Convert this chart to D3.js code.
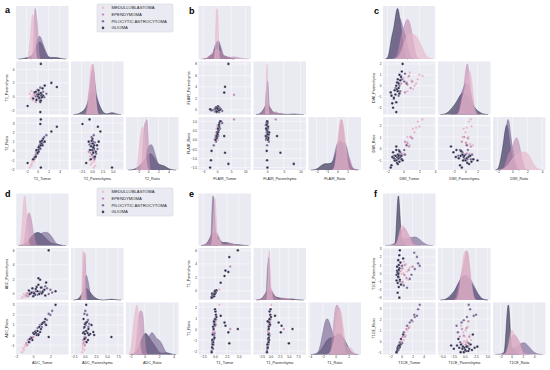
<!DOCTYPE html>
<html><head><meta charset="utf-8">
<script src="https://cdn.jsdelivr.net/npm/d3@7"></script>
<style>
body{margin:0;background:#fff}
text{font-family:"Liberation Sans",Arial,sans-serif}
</style>
</head><body>
<svg id="c" width="550" height="370"></svg>
<script>
// ---------- categories / colours ----------
const groups = ["MEDULLOBLASTOMA","EPENDYMOMA","PILOCYTIC ASTROCYTOMA","GLIOMA"];
const groupColors = ["#e4b6ca","#c08db0","#776592","#2c2b4b"];

// ---------- panel a : T2 (each array: [M, E, P, G]) ----------
const t2Vars = ["T2_Tumor","T2_Parenchyma","T2_Ratio"];
const t2Tumor = [
 [-0.9,-1.2,-0.7,-1.0,-0.6,-1.4,-0.8,-1.1,-0.5,-0.9],
 [-0.4,-0.1,-0.6,0.0,-0.3,-0.5],
 [0.2,0.6,-0.3,1.0,0.4,0.8,1.6,0.0,0.3,1.2,-0.1,0.5],
 [0.1,0.4,-0.2,0.7,0.3,-0.5,0.9,0.2,0.5,-0.8,0.0,0.6,1.3,0.6,0.6,3.5,2.5,-1.8,0.5,1.0,-0.3,0.8,0.2]];
const t2Paren = [
 [0.2,-0.3,0.5,0.0,-0.5,0.4,-0.2,0.8,0.1,-0.6],
 [0.3,-0.4,0.6,0.1,-0.8,0.2],
 [0.5,-0.2,0.0,0.7,-0.6,0.3,0.4,1.0,-0.3,-0.1,0.2,1.3],
 [0.0,0.4,-0.5,0.2,-0.2,0.6,1.2,0.9,-0.8,-0.3,0.3,0.5,1.6,4.8,-0.6,1.4,2.0,-1.4,-2.3,0.1,0.7,-0.1,0.3]];
const t2Ratio = [
 [-1.2,-1.5,-1.1,-1.3,-0.6,-1.8,-0.9,-1.6,-0.7,-1.0],
 [-0.6,-0.2,-0.9,-0.3,-0.1,-0.7],
 [0.1,0.8,-0.4,0.9,0.7,1.0,1.7,-0.3,0.5,1.5,0.0,0.2],
 [0.1,0.3,0.1,0.8,0.5,-0.7,0.6,-0.1,1.0,-0.9,-0.2,0.6,1.0,-1.8,3.4,2.6,2.1,-1.3,2.9,1.3,-0.6,1.1,0.4]];
const t2XTicks = [[-2,0,2,4],[-2.5,0,2.5,5],[-2,0,2,4]];
const t2YTicks = [[],[-2,0,2,4],[-2,-1,0,1,2,3]];

// ---------- panel b : FLAIR ----------
const flVars = ["FLAIR_Tumor","FLAIR_Parenchyma","FLAIR_Ratio"];
const flTumor = [
 [-0.3,0.2,-0.5,0.0,0.4,-0.2,0.1,-0.1,0.3,-0.4],
 [0.5,-0.6,0.1,6.0,-0.2,0.3],
 [0.6,-0.8,1.0,0.2,-0.4,1.4,0.0,0.7,-1.2,0.4,1.8,-0.6],
 [0.5,-0.4,0.7,-0.3,0.4,-0.6,0.2,0.8,-0.2,0.0,1.1,-0.5,0.3,-2.0,-2.2,-2.5,4.0,2.8,2.5,0.3,-0.1,0.6,0.1,-0.2]];
const flParen = [
 [-0.1,0.0,0.2,-0.2,0.1,0.0,0.3,-0.3,0.1,-0.1],
 [0.1,-0.2,0.4,2.6,0.2,-0.1],
 [0.2,-0.3,0.3,-0.1,0.5,0.1,0.2,-0.4,0.0,0.4,-0.2,0.1],
 [0.0,-0.2,0.3,0.1,-0.3,0.2,0.5,0.1,-0.4,0.2,0.0,0.3,0.6,-0.1,0.0,0.1,8.0,4.0,3.0,-0.2,0.4,-0.1,0.2,-0.3]];
const flRatio = [
 [0.6,0.4,0.3,0.7,0.5,0.2,0.8,0.1,0.0,0.4],
 [0.6,0.2,0.3,1.1,0.4,0.5],
 [0.7,0.0,0.6,0.4,-0.1,1.0,0.3,0.8,-0.3,0.2,0.9,0.1],
 [0.5,0.1,0.7,0.2,0.6,0.0,0.3,0.9,0.2,0.4,1.0,0.0,0.4,-0.6,-1.1,-1.5,-1.3,-0.7,0.2,0.6,0.1,0.8,0.3,0.2]];
const flXTicks = [[-5,0,5,10],[0,5,10],[-2,-1,0,1]];
const flYTicks = [[],[0,2,4,6,8],[-1.5,-1,-0.5,0,0.5,1]];

// ---------- panel c : DWI ----------
const dwVars = ["DWI_Tumor","DWI_Parenchyma","DWI_Ratio"];
const dwTumor = [
 [1.0,1.6,0.6,2.0,1.2,0.3,0.8,1.8,2.4,0.5,1.4,0.0],
 [0.4,0.9,-0.1,0.7,1.1,0.2,0.5,-0.3],
 [-0.5,-0.2,-0.8,0.1,-0.6,-0.3,0.4,-1.0,-0.4,0.2,-0.7,-1.2],
 [-0.8,-1.0,-0.6,-0.9,-0.4,-1.2,-0.7,-0.5,-1.1,-0.3,-0.9,-0.6,-1.4,-0.2,-0.8,-1.5,-0.1,-1.3,-0.9,-0.5,-1.6,-0.7]];
const dwParen = [
 [0.5,0.2,0.8,1.0,-0.3,0.3,1.2,0.6,0.9,-0.5,0.0,0.7],
 [0.3,-0.2,0.6,0.9,0.4,-0.6,0.1,0.2],
 [0.0,0.6,-0.4,0.4,-0.9,0.9,0.2,-0.2,-0.5,1.1,0.3,-1.2],
 [-0.3,-0.8,0.2,0.0,0.5,-1.1,-0.5,1.0,-0.4,0.8,-1.5,-0.2,-1.6,1.3,0.3,-0.9,2.0,-2.0,-2.4,-0.7,-0.6,0.6]];
const dwRatio = [
 [1.0,1.8,0.4,1.9,1.7,0.4,0.3,2.3,2.5,1.0,1.4,-0.4],
 [0.3,1.0,-0.5,0.2,0.9,0.6,0.5,-0.4],
 [-0.5,-0.6,-0.6,-0.1,-0.1,-0.9,0.3,-0.9,-0.3,-0.5,-0.9,-0.6],
 [-0.7,-0.6,-0.8,-1.0,-0.7,-0.8,-0.5,-1.1,-1.0,-0.6,-0.1,-0.6,-0.7,-0.9,-1.2,-1.4,-1.0,-0.3,0.2,-0.2,-1.6,-1.3]];
const dwXTicks = [[-2,0,2,4],[-2,0,2],[-2,0,2,4]];
const dwYTicks = [[],[-2,-1,0,1,2],[-1,0,1,2]];

// ---------- panel d : ADC ----------
const adVars = ["ADC_Tumor","ADC_Parenchyma","ADC_Ratio"];
const adTumor = [
 [-1.0,-1.2,-0.9,-1.1,-0.8,-1.3,-1.0,-0.7,-1.1,-0.9],
 [-0.5,-0.2,-0.8,-0.4,-0.6,0.0,-0.3,-0.7],
 [1.2,0.8,1.6,2.0,0.5,1.4,2.2,1.0,0.3,1.8],
 [0.5,0.2,0.9,-0.2,1.3,0.6,0.0,1.0,0.4,-0.5,1.5,0.7,0.3,1.8,1.1,-0.1,0.8,1.4,0.1,2.6,0.6,-0.4]];
const adParen = [
 [-0.3,-0.5,-0.1,-0.4,-0.2,-0.6,-0.2,-0.4,-0.1,-0.5],
 [-0.2,0.0,-0.3,0.1,-0.4,0.2,-0.1,0.0],
 [0.4,0.2,0.7,0.5,-0.2,1.0,0.1,0.8,0.3,-0.1],
 [0.3,-0.2,0.8,0.1,0.5,1.2,-0.4,0.0,0.9,0.4,1.5,-0.1,0.6,6.0,0.2,0.7,1.9,-0.3,0.0,0.3,2.1,-0.1]];
const adRatio = [
 [-1.2,-1.3,-1.1,-1.4,-0.9,-1.7,-1.0,-0.8,-1.5,-1.0],
 [-0.6,-0.3,-0.8,-0.7,-0.5,-0.2,-0.2,-1.0],
 [1.3,1.0,1.5,2.0,0.7,1.1,2.4,0.8,0.4,2.1],
 [0.4,0.3,0.6,-0.3,1.3,0.1,0.2,1.1,0.0,-0.7,1.0,0.8,0.2,-0.2,1.2,-0.5,0.3,1.6,0.1,3.0,0.0,-0.4]];
const adXTicks = [[-2,0,2],[-2.5,0,2.5,5,7.5],[-2,0,2,4]];
const adYTicks = [[],[0,2,4,6],[-1,0,1,2,3]];

// ---------- panel e : T1 ----------
const t1Vars = ["T1_Tumor","T1_Parenchyma","T1_Ratio"];
const t1Tumor = [
 [-0.1,0.0,-0.2,0.1,-0.3,0.2,0.9,-0.1,0.0,0.1],
 [-0.2,0.1,-0.4,0.0,3.2,0.2,-0.3,0.3],
 [-0.5,-0.3,-0.6,-0.2,-0.4,-0.1,-0.5,0.0,-0.7,-0.3],
 [-0.4,-0.2,-0.6,0.0,-0.5,-0.1,-0.3,0.2,-0.7,-0.4,0.1,-0.5,-0.2,0.3,-0.6,-0.3,0.0,1.2,2.0,2.8,3.0,4.8,2.2,-0.1]];
const t1Paren = [
 [-0.4,-0.3,-0.5,-0.2,-0.6,-0.1,0.2,-0.7,-0.4,-0.3],
 [-0.5,-0.3,-0.6,-0.2,3.6,-0.1,-0.7,0.0],
 [-0.7,-0.5,-0.8,-0.3,-0.9,-0.4,-0.5,-0.2,-1.0,-0.6],
 [-0.6,-0.4,-0.8,-0.3,-0.9,-0.2,-0.7,-0.1,-1.0,-0.5,-0.3,-0.6,-0.8,0.1,-0.4,-0.5,0.0,1.2,2.2,2.8,5.0,6.0,3.0,-0.5]];
const t1Ratio = [
 [0.6,0.9,0.3,1.2,0.4,0.7,2.2,-0.2,0.5,0.8],
 [0.2,0.8,-0.3,0.5,0.0,0.4,-0.1,0.9],
 [-1.3,-1.0,-1.6,-0.6,-1.8,-0.4,-1.1,0.3,-2.0,-1.4],
 [-1.2,0.6,-1.7,0.9,-1.4,0.4,-0.9,1.3,-2.1,0.2,1.6,-0.5,0.7,1.1,-1.0,0.0,1.8,1.2,0.6,-0.3,-1.3,0.0,0.3,-0.8]];
const t1XTicks = [[-2.5,0,2.5,5],[-2.5,0,2.5,5,7.5],[-4,-2,0,2]];
const t1YTicks = [[],[-2,0,2,4,6],[-2,-1,0,1,2]];

// ---------- panel f : T1CE ----------
const tcVars = ["T1CE_Tumor","T1CE_Parenchyma","T1CE_Ratio"];
const tcTumor = [
 [0.2,0.6,-0.2,1.0,0.4,-0.4,1.5,0.0,0.8,0.3,-0.1,1.2],
 [0.5,0.1,0.9,-0.3,1.3,0.6,0.2,2.0],
 [0.4,1.8,2.4,-0.3,1.0,2.8,0.1,1.5,3.0,-0.5,3.3,2.3],
 [-0.6,-0.8,-0.5,-0.7,-0.4,-0.9,-0.6,-0.3,-0.7,-0.5,-0.8,-0.6,-0.4,-0.9,-0.5,-0.7,-0.2,-0.6,-0.3,-0.4,0.3,-0.1]];
const tcParen = [
 [0.5,-0.3,0.9,0.2,1.4,-0.5,0.7,-0.1,1.1,0.0,0.3,-0.8],
 [-0.2,0.6,-0.6,0.2,0.4,1.0,-1.1,0.8],
 [-1.5,-0.2,0.5,-1.0,-1.8,2.0,0.9,-0.7,1.2,0.0,0.9,2.5],
 [-0.5,0.3,1.0,-1.2,0.6,-0.2,1.6,-0.8,0.1,-1.7,0.8,-0.1,2.2,-0.9,0.4,-2.4,1.3,-0.4,2.8,-3.0,1.8,-1.4]];
const tcRatio = [
 [0.1,0.8,-0.4,1.0,0.1,-0.2,1.3,0.0,0.5,0.4,-0.1,1.4],
 [0.5,-0.1,1.1,-0.3,1.2,0.4,0.4,1.8],
 [0.8,1.9,2.2,-0.1,1.4,2.3,-0.2,1.7,2.9,-0.6,3.3,2.4],
 [-0.7,-0.9,-0.7,-0.6,-0.5,-1.0,-0.8,-0.3,-0.8,-0.4,-0.9,-0.6,-0.6,-1.0,-0.5,-0.7,-0.3,-0.5,-0.5,-0.4,0.6,0.2]];
const tcXTicks = [[-2,0,2,4],[-5,-2.5,0,2.5,5],[-2,0,2,4]];
const tcYTicks = [[],[-3,-2,-1,0,1,2,3],[-1,0,1,2,3]];

// ---------- layout ----------
const CW = 52.5, GAP = 2.5;
const panels = [
 {letter:"a", lx:5,   ly:13,  vars:t2Vars, data:[t2Tumor,t2Paren,t2Ratio], xt:t2XTicks, yt:t2YTicks, ox:16,    oy:6,     ch:53, legend:[97,4]},
 {letter:"b", lx:189, ly:14,  vars:flVars, data:[flTumor,flParen,flRatio], xt:flXTicks, yt:flYTicks, ox:198.5, oy:6,     ch:53},
 {letter:"c", lx:374, ly:14,  vars:dwVars, data:[dwTumor,dwParen,dwRatio], xt:dwXTicks, yt:dwYTicks, ox:383,   oy:6,     ch:53},
 {letter:"d", lx:5,   ly:197, vars:adVars, data:[adTumor,adParen,adRatio], xt:adXTicks, yt:adYTicks, ox:16,    oy:193.5, ch:52, legend:[97,188]},
 {letter:"e", lx:189, ly:197, vars:t1Vars, data:[t1Tumor,t1Paren,t1Ratio], xt:t1XTicks, yt:t1YTicks, ox:198.5, oy:193.5, ch:52},
 {letter:"f", lx:374, ly:197, vars:tcVars, data:[tcTumor,tcParen,tcRatio], xt:tcXTicks, yt:tcYTicks, ox:383,   oy:193.5, ch:52}
];

const svg = d3.select("#c");
const BG = "#eaeaf2", TXT = "#262626";

function fmtFor(ticks){
  const dec = ticks.some(t => !Number.isInteger(t));
  return t => (dec ? t.toFixed(1) : String(t)).replace("-", "\u2212");
}
function kdeCurve(vals){
  const n = vals.length, sd = d3.deviation(vals);
  const bw = sd * Math.pow(n, -0.2);
  const lo = d3.min(vals) - 3*bw, hi = d3.max(vals) + 3*bw;
  const pts = d3.range(161).map(k => {
    const x = lo + (hi-lo)*k/160;
    const d = d3.mean(vals, v => Math.exp(-0.5*((x-v)/bw)**2)) / (bw*Math.sqrt(2*Math.PI));
    return [x, d];
  });
  return {lo, hi, pts};
}

panels.forEach(p => {
  const g = svg.append("g");
  const cellX = j => p.ox + j*(CW+GAP);
  const cellY = i => p.oy + i*(p.ch+GAP);
  const kdes = p.data.map(v => v.map(kdeCurve));
  const xDom = kdes.map(ks => { const lo=d3.min(ks,k=>k.lo), hi=d3.max(ks,k=>k.hi), pad=(hi-lo)*0.05; return [lo-pad, hi+pad]; });
  const yDom = p.data.map(v => { const a=v.flat(), lo=d3.min(a), hi=d3.max(a), pad=(hi-lo)*0.05; return [lo-pad, hi+pad]; });
  const xs = xDom.map((d,j) => d3.scaleLinear().domain(d).range([cellX(j), cellX(j)+CW]));
  const ys = yDom.map((d,i) => d3.scaleLinear().domain(d).range([cellY(i)+p.ch, cellY(i)]));
  const inX = j => p.xt[j].filter(t => t>=xDom[j][0] && t<=xDom[j][1]);
  const inY = i => p.yt[i].filter(t => t>=yDom[i][0] && t<=yDom[i][1]);

  const samples = [];
  p.data[0].forEach((arr, gi) => arr.forEach((_, k) => samples.push({g:gi, v:p.data.map(v => v[gi][k])})));

  for (let i=0;i<3;i++){
    for (let j=0;j<=i;j++){
      const x0=cellX(j), y0=cellY(i);
      g.append("rect").attr("x",x0).attr("y",y0).attr("width",CW).attr("height",p.ch).attr("fill",BG);
      g.selectAll(null).data(inX(j)).join("line")
        .attr("x1",d=>xs[j](d)).attr("x2",d=>xs[j](d)).attr("y1",y0).attr("y2",y0+p.ch)
        .attr("stroke","#fff").attr("stroke-width",0.5);
      if (i===j){
        const dmax = d3.max(kdes[j], k => d3.max(k.pts, q=>q[1]));
        const yd = d3.scaleLinear().domain([0, dmax*1.05]).range([y0+p.ch, y0]);
        const area = d3.area().x(q=>xs[j](q[0])).y0(yd(0)).y1(q=>yd(q[1])).curve(d3.curveBasis);
        const line = d3.line().x(q=>xs[j](q[0])).y(q=>yd(q[1])).curve(d3.curveBasis);
        for (let gi=3; gi>=0; gi--){
          g.append("path").attr("d",area(kdes[j][gi].pts)).attr("fill",groupColors[gi]).attr("fill-opacity",0.64);
          g.append("path").attr("d",line(kdes[j][gi].pts)).attr("fill","none").attr("stroke",groupColors[gi]).attr("stroke-width",0.5);
        }
      } else {
        g.selectAll(null).data(inY(i)).join("line")
          .attr("y1",d=>ys[i](d)).attr("y2",d=>ys[i](d)).attr("x1",x0).attr("x2",x0+CW)
          .attr("stroke","#fff").attr("stroke-width",0.5);
        g.selectAll(null).data(samples).join("circle")
          .attr("cx",s=>xs[j](s.v[j])).attr("cy",s=>ys[i](s.v[i])).attr("r",1.3)
          .attr("fill",s=>groupColors[s.g]).attr("stroke","#fff").attr("stroke-width",0.25);
      }
    }
  }
  const yb = cellY(2)+p.ch;
  for (let j=0;j<3;j++){
    const ax = g.append("g").attr("transform",`translate(0,${yb})`)
      .call(d3.axisBottom(xs[j]).tickValues(inX(j)).tickFormat(fmtFor(p.xt[j])).tickSize(0).tickPadding(1.2));
    ax.select(".domain").remove();
    ax.selectAll("text").attr("font-size",3.1).attr("fill",TXT).attr("font-family","Liberation Sans, Arial, sans-serif");
    g.append("text").attr("x",cellX(j)+CW/2).attr("y",yb+9.6).attr("text-anchor","middle")
      .attr("font-size",3.7).attr("fill",TXT).text(p.vars[j]);
  }
  for (let i=1;i<3;i++){
    const ay = g.append("g").attr("transform",`translate(${p.ox},0)`)
      .call(d3.axisLeft(ys[i]).tickValues(inY(i)).tickFormat(fmtFor(p.yt[i])).tickSize(0).tickPadding(1.5));
    ay.select(".domain").remove();
    ay.selectAll("text").attr("font-size",3.1).attr("fill",TXT).attr("font-family","Liberation Sans, Arial, sans-serif");
    const cy = cellY(i)+p.ch/2;
    g.append("text").attr("transform",`translate(${p.ox-8.2},${cy}) rotate(-90)`).attr("text-anchor","middle")
      .attr("font-size",3.7).attr("fill",TXT).text(p.vars[i]);
  }
  g.append("text").attr("x",p.lx).attr("y",p.ly).attr("font-size",9).attr("font-weight","bold").attr("fill","#000").text(p.letter);
  if (p.legend){
    const [lx,ly] = p.legend;
    const lg = g.append("g");
    lg.append("rect").attr("x",lx).attr("y",ly).attr("width",76).attr("height",28).attr("rx",1)
      .attr("fill",BG).attr("stroke","#d0d0d8").attr("stroke-width",0.5);
    groups.forEach((name,k) => {
      const yy = ly + 3.8 + k*6.7;
      lg.append("circle").attr("cx",lx+6).attr("cy",yy).attr("r",1.3).attr("fill",groupColors[k]).attr("stroke","#fff").attr("stroke-width",0.2);
      lg.append("text").attr("x",lx+14.5).attr("y",yy+1.5).attr("font-size",4.2).attr("fill",TXT).text(name);
    });
  }
});
</script>
</body></html>
